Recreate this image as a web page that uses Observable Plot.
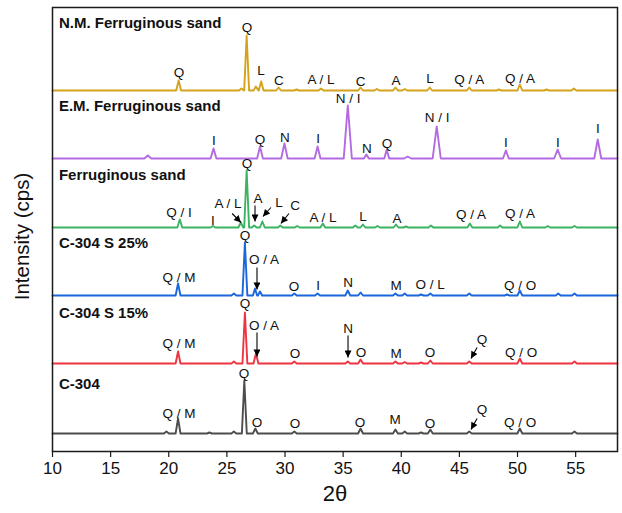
<!DOCTYPE html>
<html>
<head>
<meta charset="utf-8">
<script src="https://cdn.jsdelivr.net/npm/d3@7"></script>
<script src="https://cdn.jsdelivr.net/npm/@observablehq/plot@0.6"></script>
<style>
  html, body { margin: 0; padding: 0; background: #fff; }
</style>
</head>
<body>
<div id="chart"></div>
<script>
// ---------- data ----------
const xTicks = [10, 15, 20, 25, 30, 35, 40, 45, 50, 55];
const xRange = [10, 58.6];
const seriesNames = ["N.M. Ferruginous sand", "E.M. Ferruginous sand", "Ferruginous sand", "C-304 S 25%", "C-304 S 15%", "C-304"];
const offsets = [361, 293, 224, 156, 88, 18];           // vertical stacking offset of each pattern
const colors = ["#D4A21C", "#B36AE2", "#3CB363", "#1A66DD", "#EE3440", "#4D4D4D"];

// peaks: [2θ, intensity above the pattern's baseline, optional half width]
const peaksNM = [[20.85, 10], [26.25, 2], [26.7, 55], [27.5, 4], [27.95, 9], [29.45, 3], [31.0, 1], [33.1, 2], [36.5, 3], [37.9, 1.5], [39.5, 3], [40.3, 1.5], [42.45, 3], [45.85, 3], [48.4, 1], [50.2, 6], [52.5, 1], [54.85, 2]];
const peaksEM = [[18.2, 3, 0.3], [23.85, 10, 0.25], [27.85, 12, 0.25], [29.95, 15, 0.28], [32.8, 12, 0.25], [35.4, 53, 0.35], [37.0, 4], [38.75, 9], [40.55, 2, 0.3], [43.05, 32, 0.35], [49.0, 8, 0.25], [53.45, 9, 0.3], [56.9, 19, 0.3]];
const peaksFS = [[20.95, 8], [23.8, 1.5], [26.2, 5], [26.7, 57], [27.35, 2], [28.05, 6], [29.6, 2], [31.05, 1.5], [33.25, 4], [36.05, 2], [36.7, 3], [37.95, 1.5], [39.55, 3], [40.4, 1], [42.55, 2], [45.9, 4], [48.5, 2], [50.2, 6], [52.6, 1.5], [54.9, 1.5]];
const peaksS25 = [[20.8, 12], [25.6, 2], [26.55, 53], [27.42, 7, 0.18], [27.85, 4, 0.18], [30.8, 2], [32.8, 2], [35.4, 5], [36.5, 3], [39.5, 2], [40.3, 2], [41.7, 1], [42.5, 2], [45.85, 2], [49.1, 1], [50.2, 5], [53.5, 2], [54.9, 2]];
const peaksS15 = [[20.8, 12], [25.6, 2], [26.55, 51], [27.5, 10], [30.8, 2], [35.4, 2], [36.5, 4], [39.5, 2], [40.3, 1.5], [41.7, 1], [42.5, 3], [45.85, 2], [50.2, 5], [54.9, 2]];
const peaksC304 = [[19.8, 2], [20.8, 15], [23.5, 1], [25.6, 2], [26.5, 53], [27.45, 5], [30.8, 2], [36.5, 5], [39.5, 4], [40.3, 2], [41.7, 1], [42.5, 4], [45.85, 2], [50.2, 5], [54.9, 2]];
const allPeaks = [peaksNM, peaksEM, peaksFS, peaksS25, peaksS15, peaksC304];

// phase annotations: [2θ, intensity level, text]
const labelsNM = [[20.88, 379, "Q"], [26.73, 424, "Q"], [27.93, 381, "L"], [29.48, 371, "C"], [33.1, 372, "A / L"], [36.5, 370, "C"], [39.55, 371, "A"], [42.48, 373, "L"], [45.84, 372, "Q / A"], [50.22, 373, "Q / A"]];
const labelsEM = [[23.89, 311, "I"], [27.85, 312, "Q"], [29.99, 314, "N"], [32.84, 313, "I"], [35.42, 353, "N / I"], [37.05, 303, "N"], [38.78, 308, "Q"], [43.08, 334, "N / I"], [49.0, 309, "I"], [53.48, 309, "I"], [56.92, 323, "I"]];
const labelsFS = [[20.88, 239, "Q / I"], [23.8, 231, "I"], [26.73, 288, "Q"], [25.1, 248, "A / L"], [27.67, 253, "A"], [29.48, 249, "L"], [30.86, 246, "C"], [33.27, 234, "A / L"], [36.71, 235, "L"], [39.64, 233, "A"], [46.0, 237, "Q / A"], [50.22, 238, "Q / A"]];
const labelsS25 = [[20.88, 174, "Q / M"], [26.56, 216, "Q"], [28.19, 192, "O / A"], [30.77, 165, "O"], [32.84, 166, "I"], [35.42, 169, "N"], [39.55, 166, "M"], [42.48, 167, "O / L"], [50.22, 166, "Q / O"]];
const labelsS15 = [[20.88, 108, "Q / M"], [26.56, 148, "Q"], [28.19, 126, "O / A"], [30.86, 98, "O"], [35.42, 123, "N"], [36.54, 99, "O"], [39.55, 98, "M"], [42.48, 99, "O"], [46.95, 112, "Q"], [50.3, 99, "Q / O"]];
const labelsC304 = [[20.88, 38, "Q / M"], [26.47, 78, "Q"], [27.59, 29, "O"], [30.86, 28, "O"], [36.45, 29, "O"], [39.47, 32, "M"], [42.48, 28, "O"], [46.95, 42, "Q"], [50.22, 29, "Q / O"]];
const seriesLabelLevels = [428, 345, 276, 208, 138, 67];

// pointer arrows: [2θ from, level from, 2θ to, level to]
const arrowList = [
  [25.45, 238, 26.21, 229], [27.42, 246, 27.42, 230], [28.79, 244, 28.1, 235], [30.34, 238, 29.65, 228],
  [27.59, 184, 27.59, 162],
  [27.59, 119, 27.59, 95], [35.42, 116, 35.42, 94], [46.52, 104, 46.0, 93],
  [46.52, 33, 46.0, 22]
];

// ---------- build tables ----------
function profile(peaks, offset, si) {
  const pts = [{x: xRange[0], y: offset, s: si}];
  for (const [p, h, w = 0.21] of peaks) {
    pts.push({x: p - w, y: offset, s: si}, {x: p, y: offset + h, s: si}, {x: p + w, y: offset, s: si});
  }
  pts.push({x: xRange[1], y: offset, s: si});
  return pts;
}
const lines = allPeaks.map((pk, i) => profile(pk, offsets[i], i));
const peakLabels = [labelsNM, labelsEM, labelsFS, labelsS25, labelsS15, labelsC304].flat().map(([x, y, t]) => ({x, y, t}));
const nameLabels = seriesNames.map((n, i) => ({x: 10.55, y: seriesLabelLevels[i], t: n}));
const arrows = arrowList.map(([x1, y1, x2, y2]) => ({x1, y1, x2, y2}));

const font = "'Liberation Sans', Arial, Helvetica, sans-serif";

const chart = Plot.plot({
  width: 622,
  height: 513,
  marginLeft: 52,
  marginRight: 5,
  marginTop: 7,
  marginBottom: 62,
  style: {fontFamily: font, background: "#fff", color: "#111"},
  x: {domain: xRange},
  y: {domain: [0, 444], axis: null},
  marks: [
    ...lines.map((pts, i) => Plot.line(pts, {x: "x", y: "y", stroke: colors[i], strokeWidth: 1.9, strokeLinejoin: "round"})),
    Plot.frame({stroke: "#1a1a1a", strokeWidth: 1.5}),
    Plot.axisX({ticks: xTicks, tickSize: 6, tickPadding: 4, fontSize: 17, label: null, stroke: "#1a1a1a", strokeWidth: 1.2}),
    Plot.text(["2θ"], {frameAnchor: "bottom", dy: 49, fontSize: 22, fill: "#111"}),
    Plot.text(["Intensity (cps)"], {frameAnchor: "left", textAnchor: "middle", dx: -30, dy: 7, rotate: -90, fontSize: 20.5, fill: "#111"}),
    Plot.text(peakLabels, {x: "x", y: "y", text: "t", fontSize: 13.5, fill: "#111"}),
    Plot.text(nameLabels, {x: "x", y: "y", text: "t", textAnchor: "start", fontWeight: "bold", fontSize: 15, fill: "#111"}),
    Plot.link(arrows, {x1: "x1", y1: "y1", x2: "x2", y2: "y2", stroke: "#000", strokeWidth: 1.1})
  ]
});

// filled arrow heads on the pointer links
const ns = "http://www.w3.org/2000/svg";
const defs = document.createElementNS(ns, "defs");
const marker = document.createElementNS(ns, "marker");
marker.setAttribute("id", "ahead");
marker.setAttribute("viewBox", "0 0 10 10");
marker.setAttribute("refX", "10");
marker.setAttribute("refY", "5");
marker.setAttribute("markerWidth", "10");
marker.setAttribute("markerHeight", "7");
marker.setAttribute("markerUnits", "userSpaceOnUse");
marker.setAttribute("orient", "auto");
const mp = document.createElementNS(ns, "path");
mp.setAttribute("d", "M0,0L10,5L0,10Z");
mp.setAttribute("fill", "#000");
marker.appendChild(mp);
defs.appendChild(marker);
chart.insertBefore(defs, chart.firstChild);
chart.querySelectorAll('g[aria-label="link"] path').forEach(p => p.setAttribute("marker-end", "url(#ahead)"));

document.getElementById("chart").appendChild(chart);
</script>
</body>
</html>
